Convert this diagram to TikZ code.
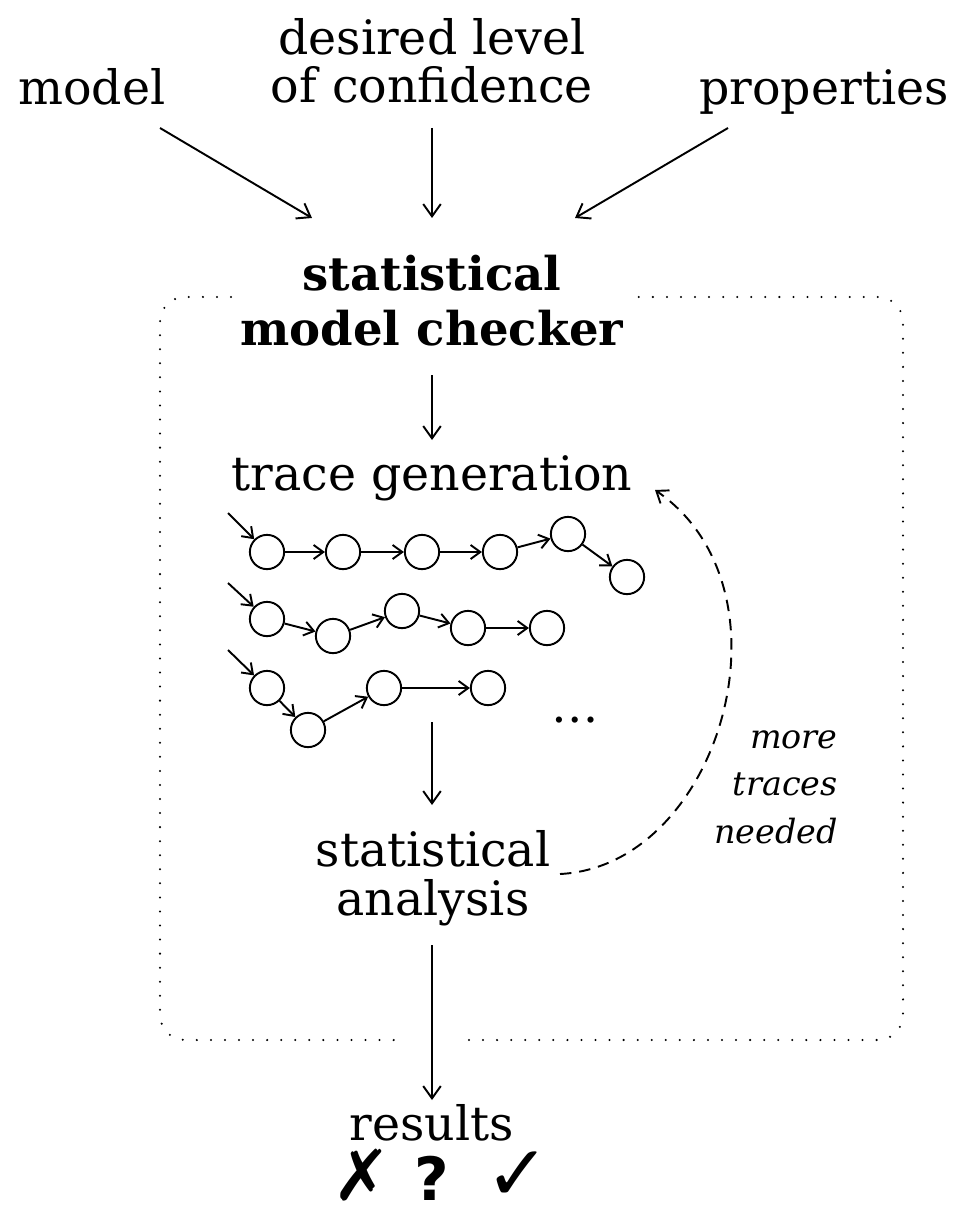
\documentclass[tikz,border=0pt]{standalone}
\usepackage{fontspec}
\setmainfont{DejaVu Serif}
\newfontfamily\symfont{DejaVu Sans}
\usetikzlibrary{arrows.meta}

\begin{document}
\begin{tikzpicture}[x=0.02cm,y=-0.02cm,
  lbl/.style={inner sep=0pt, font=\fontsize{27}{27.5}\selectfont},
  ttl/.style={inner sep=0pt, font=\fontsize{26.5}{31}\selectfont\bfseries},
  note/.style={inner sep=0pt, align=right, font=\fontsize{19}{27}\selectfont\itshape},
  flow/.style={line width=1.1pt, -{Straight Barb[length=7pt,width=10pt]}},
  st/.style={circle, draw, line width=1.1pt, minimum size=19.5pt, inner sep=0pt},
  tr/.style={line width=1.1pt, -{Straight Barb[length=5.5pt,width=8pt]}},
  frame/.style={line width=1.3pt, line cap=round, dash pattern=on 0pt off 8pt, rounded corners=0.5cm},
  loopback/.style={line width=1.1pt, dash pattern=on 6.5pt off 4.5pt, -{Straight Barb[length=6pt,width=9pt]}},
  sym/.style={inner sep=0pt, anchor=base, text depth=0pt}
]
\useasboundingbox (0,0) rectangle (958,1216);

% inputs
\node[lbl, anchor=base] (model) at (92,105) {model};
\node[lbl, anchor=base, align=center] (conf) at (432,103) {desired level\\of confidence};
\node[lbl, anchor=base] (props) at (824,105) {properties};

% checker frame (open where the title and the output arrow pass)
\draw[frame] (469,1040) -- (903,1040) -- (903,297) -- (635,297);
\draw[frame] (231,297) -- (160,297) -- (160,1040) -- (400,1040);

\node[ttl, anchor=base, align=center] (smc) at (432,345) {statistical\\model checker};

\coordinate (inA) at (312,218);
\coordinate (inB) at (432,218);
\coordinate (inC) at (575,218);
\coordinate (outM) at (160,128);
\coordinate (outC) at (432,128);
\coordinate (outP) at (728,128);
\draw[flow] (outM) -- (inA);
\draw[flow] (outC) -- (inB);
\draw[flow] (outP) -- (inC);

% trace generation
\node[lbl, anchor=base] (gen) at (432,490) {trace generation};
\coordinate (smcout) at (432,375);
\coordinate (genin) at (432,440);
\draw[flow] (smcout) -- (genin);

% traces
\node[st] (a1) at (267,552) {};
\node[st] (a2) at (343,552) {};
\node[st] (a3) at (422,552) {};
\node[st] (a4) at (500,552) {};
\node[st] (a5) at (568,534) {};
\node[st] (a6) at (627,577) {};
\node[st] (b1) at (267,619) {};
\node[st] (b2) at (333,636) {};
\node[st] (b3) at (402,611) {};
\node[st] (b4) at (468,628) {};
\node[st] (b5) at (547,628) {};
\node[st] (c1) at (267,688) {};
\node[st] (c2) at (308,730) {};
\node[st] (c3) at (384,688) {};
\node[st] (c4) at (488,688) {};
\coordinate (a0) at (228,513);
\coordinate (b0) at (228,583);
\coordinate (c0) at (228,650);
\draw[tr] (a0) -- (a1);
\draw[tr] (a1) -- (a2);
\draw[tr] (a2) -- (a3);
\draw[tr] (a3) -- (a4);
\draw[tr] (a4) -- (a5);
\draw[tr] (a5) -- (a6);
\draw[tr] (b0) -- (b1);
\draw[tr] (b1) -- (b2);
\draw[tr] (b2) -- (b3);
\draw[tr] (b3) -- (b4);
\draw[tr] (b4) -- (b5);
\draw[tr] (c0) -- (c1);
\draw[tr] (c1) -- (c2);
\draw[tr] (c2) -- (c3);
\draw[tr] (c3) -- (c4);
\node[lbl, anchor=base] (dots) at (575,722) {\dots};

% statistical analysis
\node[lbl, anchor=base, align=center] (ana) at (433,915) {statistical\\analysis};
\coordinate (trout) at (432,722);
\coordinate (anain) at (432,805);
\draw[flow] (trout) -- (anain);

% loop back for more traces
\coordinate (loopstart) at (560,874);
\coordinate (loopend) at (655,490);
\draw[loopback] (loopstart) .. controls (720,866) and (800,590) .. (loopend);
\node[note, anchor=base east] (more) at (838,843) {more\\traces\\needed};

% results
\coordinate (anaout) at (432,945);
\coordinate (resin) at (432,1100);
\draw[flow] (anaout) -- (resin);
\node[lbl, anchor=base] (res) at (432,1140) {results};
\node[sym, font=\fontsize{40}{40}\selectfont\symfont] (no) at (362,1200) {✗};
\node[sym, font=\fontsize{34}{34}\selectfont\symfont\bfseries] (unk) at (432,1200) {?};
\node[sym, font=\fontsize{44}{44}\selectfont\symfont] (yes) at (518,1200) {✓};
\end{tikzpicture}
\end{document}
